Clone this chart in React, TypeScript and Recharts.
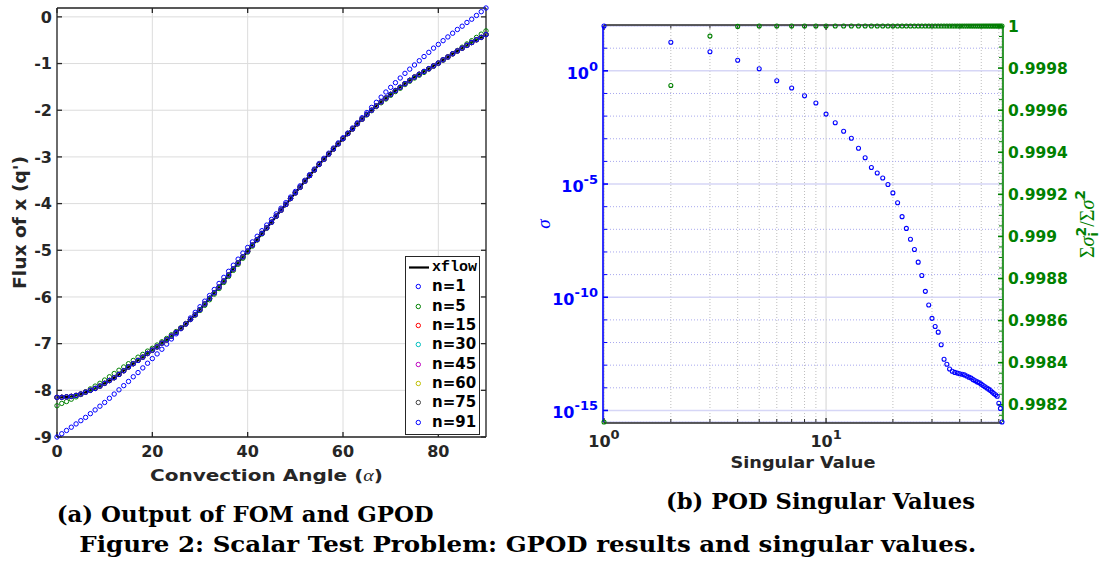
import React from "react";
import { ComposedChart, Line, XAxis, YAxis, CartesianGrid, Legend } from "recharts";

// ---------- (a) Output of FOM and GPOD ----------
const ANGLES = [
  0, 1, 2, 3, 4, 5, 6, 7, 8, 9, 10, 11, 12, 13, 14, 15, 16, 17, 18, 19,
  20, 21, 22, 23, 24, 25, 26, 27, 28, 29, 30, 31, 32, 33, 34, 35, 36, 37, 38, 39,
  40, 41, 42, 43, 44, 45, 46, 47, 48, 49, 50, 51, 52, 53, 54, 55, 56, 57, 58, 59,
  60, 61, 62, 63, 64, 65, 66, 67, 68, 69, 70, 71, 72, 73, 74, 75, 76, 77, 78, 79,
  80, 81, 82, 83, 84, 85, 86, 87, 88, 89, 90,
];

const XFLOW = [
  -8.15, -8.15, -8.14, -8.13, -8.11, -8.08, -8.04, -8.0, -7.96, -7.91,
  -7.85, -7.79, -7.73, -7.66, -7.58, -7.5, -7.43, -7.36, -7.29, -7.21,
  -7.14, -7.07, -6.99, -6.92, -6.84, -6.76, -6.67, -6.58, -6.48, -6.38,
  -6.27, -6.15, -6.03, -5.91, -5.79, -5.66, -5.53, -5.4, -5.27, -5.14,
  -5.02, -4.89, -4.77, -4.64, -4.52, -4.4, -4.27, -4.14, -4.02, -3.89,
  -3.77, -3.65, -3.52, -3.4, -3.28, -3.16, -3.05, -2.94, -2.83, -2.72,
  -2.61, -2.5, -2.4, -2.29, -2.19, -2.09, -2.0, -1.91, -1.82, -1.74,
  -1.66, -1.58, -1.51, -1.43, -1.36, -1.29, -1.23, -1.17, -1.11, -1.05,
  -0.99, -0.92, -0.86, -0.79, -0.73, -0.67, -0.61, -0.55, -0.49, -0.44,
  -0.38,
];

const GPOD_N1 = [
  -9.0, -8.93, -8.86, -8.79, -8.72, -8.65, -8.58, -8.5, -8.42, -8.34,
  -8.26, -8.17, -8.08, -7.99, -7.9, -7.81, -7.71, -7.62, -7.52, -7.42,
  -7.32, -7.22, -7.12, -7.01, -6.9, -6.79, -6.68, -6.57, -6.45, -6.33,
  -6.21, -6.09, -5.97, -5.84, -5.71, -5.58, -5.45, -5.32, -5.19, -5.06,
  -4.94, -4.82, -4.7, -4.58, -4.46, -4.34, -4.22, -4.1, -3.98, -3.86,
  -3.74, -3.62, -3.5, -3.38, -3.26, -3.14, -3.03, -2.92, -2.81, -2.7,
  -2.59, -2.49, -2.38, -2.27, -2.16, -2.05, -1.94, -1.83, -1.72, -1.61,
  -1.51, -1.41, -1.31, -1.21, -1.12, -1.03, -0.94, -0.85, -0.76, -0.67,
  -0.59, -0.51, -0.43, -0.35, -0.27, -0.2, -0.12, -0.05, 0.03, 0.11,
  0.19,
];

const GPOD_N5 = [
  -8.33, -8.28, -8.24, -8.19, -8.14, -8.09, -8.03, -7.97, -7.91, -7.85,
  -7.78, -7.71, -7.64, -7.57, -7.5, -7.43, -7.36, -7.29, -7.23, -7.16,
  -7.1, -7.03, -6.96, -6.89, -6.81, -6.74, -6.66, -6.57, -6.48, -6.39,
  -6.29, -6.18, -6.06, -5.94, -5.82, -5.69, -5.56, -5.43, -5.3, -5.17,
  -5.04, -4.91, -4.78, -4.65, -4.53, -4.4, -4.27, -4.14, -4.02, -3.89,
  -3.77, -3.65, -3.52, -3.4, -3.28, -3.16, -3.05, -2.94, -2.83, -2.72,
  -2.61, -2.5, -2.4, -2.29, -2.19, -2.1, -2.01, -1.92, -1.84, -1.76,
  -1.68, -1.6, -1.53, -1.45, -1.38, -1.31, -1.25, -1.19, -1.12, -1.06,
  -1.0, -0.93, -0.86, -0.79, -0.72, -0.65, -0.58, -0.51, -0.44, -0.37,
  -0.3,
];

// n=15 and up land on the xflow curve
const GPOD_CONVERGED = XFLOW;

const FLUX_SERIES = [
  { key: "n1", name: "n=1", color: "#0000ff" },
  { key: "n5", name: "n=5", color: "#008000" },
  { key: "n15", name: "n=15", color: "#ff0000" },
  { key: "n30", name: "n=30", color: "#00bfbf" },
  { key: "n45", name: "n=45", color: "#bf00bf" },
  { key: "n60", name: "n=60", color: "#bfbf00" },
  { key: "n75", name: "n=75", color: "#404040" },
  { key: "n91", name: "n=91", color: "#0000ff" },
];

const FLUX_X_TICKS = [0, 20, 40, 60, 80];
const FLUX_Y_TICKS = [-9, -8, -7, -6, -5, -4, -3, -2, -1, 0];

const fluxRows = ANGLES.map((a, i) => ({
  a,
  xflow: XFLOW[i],
  n1: GPOD_N1[i],
  n5: GPOD_N5[i],
  n15: GPOD_CONVERGED[i],
  n30: GPOD_CONVERGED[i],
  n45: GPOD_CONVERGED[i],
  n60: GPOD_CONVERGED[i],
  n75: GPOD_CONVERGED[i],
  n91: GPOD_CONVERGED[i],
}));

const FLUX_X_DOMAIN = [ANGLES[0], ANGLES[ANGLES.length - 1]];
const FLUX_Y_DOMAIN = [
  Math.min(...XFLOW, ...GPOD_N1, ...GPOD_N5),
  Math.max(...XFLOW, ...GPOD_N1, ...GPOD_N5),
];

// ---------- (b) POD Singular Values ----------
const SV_INDEX = [
  1, 2, 3, 4, 5, 6, 7, 8, 9, 10, 11, 12, 13, 14, 15, 16, 17, 18, 19, 20,
  21, 22, 23, 24, 25, 26, 27, 28, 29, 30, 31, 32, 33, 34, 35, 36, 37, 38, 39, 40,
  41, 42, 43, 44, 45, 46, 47, 48, 49, 50, 51, 52, 53, 54, 55, 56, 57, 58, 59, 60,
  61, 62,
];

const SIGMA = [
  95.5, 18.2, 6.92, 2.95, 1.23, 0.363, 0.174, 0.0794, 0.038, 0.0123,
  5.13e-3, 2.14e-3, 1.05e-3, 3.8e-4, 1.45e-4, 5.37e-5, 3.09e-5, 1.86e-5, 9.55e-6, 4.07e-6,
  1.48e-6, 3.63e-7, 1.1e-7, 3.63e-8, 1.29e-8, 3.55e-9, 9.12e-10, 1.82e-10, 4.57e-11, 1.17e-11,
  5.13e-12, 2.88e-12, 7.94e-13, 1.82e-13, 1.1e-13, 6.76e-14, 5.37e-14, 4.79e-14, 4.47e-14, 4.17e-14,
  3.98e-14, 3.72e-14, 3.31e-14, 2.95e-14, 2.69e-14, 2.29e-14, 2.04e-14, 1.82e-14, 1.66e-14, 1.45e-14,
  1.26e-14, 1.12e-14, 9.77e-15, 8.71e-15, 7.59e-15, 6.46e-15, 5.62e-15, 4.9e-15, 4.27e-15, 2.09e-15,
  1.23e-15, 3.09e-16,
];

const ENERGY = [
  0.998118, 0.999717, 0.999952, 0.999998, 1, 1, 1, 1, 1, 1,
  1, 1, 1, 1, 1, 1, 1, 1, 1, 1,
  1, 1, 1, 1, 1, 1, 1, 1, 1, 1,
  1, 1, 1, 1, 1, 1, 1, 1, 1, 1,
  1, 1, 1, 1, 1, 1, 1, 1, 1, 1,
  1, 1, 1, 1, 1, 1, 1, 1, 1, 1,
  1, 1,
];

const SV_X_MAJOR = [1, 10];
const SV_X_MINOR = [2, 3, 4, 5, 6, 7, 8, 9, 20, 30, 40, 50, 60];
const SIGMA_MAJOR = [1e-15, 1e-10, 1e-5, 1];
const SIGMA_MINOR = [10, 1e-1, 1e-2, 1e-3, 1e-4, 1e-6, 1e-7, 1e-8, 1e-9, 1e-11, 1e-12, 1e-13, 1e-14];
const ENERGY_TICKS = [0.9982, 0.9984, 0.9986, 0.9988, 0.999, 0.9992, 0.9994, 0.9996, 0.9998, 1];
const ENERGY_MINOR = [
  0.99815, 0.99825, 0.9983, 0.99835, 0.99845, 0.9985, 0.99855, 0.99865, 0.9987, 0.99875,
  0.99885, 0.9989, 0.99895, 0.99905, 0.9991, 0.99915, 0.99925, 0.9993, 0.99935, 0.99945,
  0.9995, 0.99955, 0.99965, 0.9997, 0.99975, 0.99985, 0.9999, 0.99995,
];

const svRows = SV_INDEX.map((i, k) => ({ i, sigma: SIGMA[k], energy: ENERGY[k] }));

const SV_X_DOMAIN = [SV_INDEX[0], SV_INDEX[SV_INDEX.length - 1]];
const SIGMA_DOMAIN = [Math.min(...SIGMA), Math.max(...SIGMA)];
const ENERGY_DOMAIN = [Math.min(...ENERGY), Math.max(...ENERGY)];

const INK = "#262626";
const SANS = "DejaVu Sans";
const tickFont = { fill: INK, fontSize: 16, fontWeight: "bold", fontFamily: SANS };

// tick marks without a label
function NoTick() {
  return null;
}

function FluxLegend() {
  return (
    <div
      style={{
        width: 75,
        height: 179,
        boxSizing: "border-box",
        border: `1.3px solid ${INK}`,
        background: "#fff",
        paddingTop: 1,
        fontFamily: SANS,
        fontWeight: "bold",
        fontSize: 15,
        color: "#000",
      }}
    >
      <div style={{ display: "flex", alignItems: "center", height: 19.3 }}>
        <svg width={26} height={19} style={{ flex: "none" }}>
          <line x1={3} x2={23} y1={9.5} y2={9.5} stroke="#000" strokeWidth={2.2} />
        </svg>
        <span style={{ fontFamily: "Liberation Mono", fontSize: 15, lineHeight: "19px" }}>xflow</span>
      </div>
      {FLUX_SERIES.map((s) => (
        <div key={s.key} style={{ display: "flex", alignItems: "center", height: 19.3 }}>
          <svg width={26} height={19} style={{ flex: "none" }}>
            <circle cx={12.3} cy={9.5} r={2.2} fill="none" stroke={s.color} strokeWidth={1} />
          </svg>
          <span style={{ lineHeight: "19px" }}>{s.name}</span>
        </div>
      ))}
    </div>
  );
}

function SigmaTick(props: any) {
  const { x, y, payload } = props;
  const exp = Math.round(Math.log10(payload.value));
  return (
    <text x={x} y={y + 8} textAnchor="end" fill="#0000ff" fontFamily={SANS} fontWeight="bold" fontSize={16}>
      <tspan>10</tspan>
      <tspan dy={-8} fontSize={13}>{exp}</tspan>
    </text>
  );
}

function IndexTick(props: any) {
  const { x, y, payload } = props;
  const exp = Math.round(Math.log10(payload.value));
  return (
    <text x={x} y={y} textAnchor="middle" fill={INK} fontFamily={SANS} fontWeight="bold" fontSize={16}>
      <tspan>10</tspan>
      <tspan dy={-8} fontSize={13}>{exp}</tspan>
    </text>
  );
}

function FluxChart() {
  return (
    <ComposedChart width={500} height={490} data={fluxRows} margin={{ top: 7, right: 13, bottom: 0, left: 0 }}>
      <CartesianGrid xAxisId="a" yAxisId="f" stroke="#dcdcdc" />
      <XAxis
        xAxisId="a"
        dataKey="a"
        type="number"
        domain={FLUX_X_DOMAIN}
        ticks={FLUX_X_TICKS}
        interval={0}
        height={53}
        tickSize={-5}
        tickMargin={14}
        stroke={INK}
        strokeWidth={1.3}
        tick={tickFont}
        label={{
          content: ({ viewBox }: any) =>
            viewBox ? (
              <text
                x={viewBox.x + viewBox.width / 2 - 5}
                y={480.7}
                textAnchor="middle"
                fill={INK}
                fontFamily={SANS}
                fontWeight="bold"
                fontSize={16.5}
                textLength={233}
                lengthAdjust="spacingAndGlyphs"
              >
                Convection Angle (<tspan fontFamily="Liberation Serif" fontStyle="italic" fontWeight="normal">α</tspan>)
              </text>
            ) : null,
        }}
      />
      {/* box: top edge */}
      <XAxis
        xAxisId="top"
        orientation="top"
        dataKey="a"
        type="number"
        domain={FLUX_X_DOMAIN}
        ticks={FLUX_X_TICKS}
        interval={0}
        height={1}
        tickSize={-5}
        tick={<NoTick />}
        stroke={INK}
        strokeWidth={1.3}
      />
      <YAxis
        yAxisId="f"
        type="number"
        domain={FLUX_Y_DOMAIN}
        ticks={FLUX_Y_TICKS}
        interval={0}
        width={57}
        tickSize={-5}
        tickMargin={10}
        stroke={INK}
        strokeWidth={1.3}
        tick={tickFont}
        label={{
          content: ({ viewBox }: any) =>
            viewBox ? (
              <text
                transform={`translate(${viewBox.x + 20},${viewBox.y + viewBox.height / 2}) rotate(-90)`}
                textAnchor="middle"
                dominantBaseline="central"
                fill={INK}
                fontFamily={SANS}
                fontWeight="bold"
                fontSize={17.5}
                textLength={133}
                lengthAdjust="spacingAndGlyphs"
              >
                Flux of x (q')
              </text>
            ) : null,
        }}
      />
      {/* box: right edge */}
      <YAxis
        yAxisId="fr"
        orientation="right"
        type="number"
        domain={FLUX_Y_DOMAIN}
        ticks={FLUX_Y_TICKS}
        interval={0}
        width={1}
        tickSize={-5}
        tick={<NoTick />}
        stroke={INK}
        strokeWidth={1.3}
      />
      <Line
        xAxisId="top"
        yAxisId="fr"
        dataKey="xflow"
        stroke="none"
        dot={false}
        activeDot={false}
        legendType="none"
        isAnimationActive={false}
      />
      <Line
        xAxisId="a"
        yAxisId="f"
        dataKey="xflow"
        name="xflow"
        stroke="#000"
        strokeWidth={2.2}
        dot={false}
        activeDot={false}
        isAnimationActive={false}
      />
      {FLUX_SERIES.map((s) => (
        <Line
          key={s.key}
          xAxisId="a"
          yAxisId="f"
          dataKey={s.key}
          name={s.name}
          stroke="none"
          dot={{ r: 2.2, stroke: s.color, strokeWidth: 1, fill: "none" }}
          activeDot={false}
          isAnimationActive={false}
        />
      ))}
      <Legend
        layout="vertical"
        align="center"
        verticalAlign="middle"
        content={() => <FluxLegend />}
        wrapperStyle={{ left: 405, top: 256, width: 75, height: 179 }}
      />
    </ComposedChart>
  );
}

function SingularChart() {
  return (
    <ComposedChart width={574} height={480} data={svRows} margin={{ top: 24, right: 0, bottom: 0, left: 0 }}>
      <CartesianGrid xAxisId="a_xm" yAxisId="a_sm" horizontal={false} stroke="#bdbdbd" strokeDasharray="1 2" />
      <CartesianGrid xAxisId="a_xm" yAxisId="a_sm" vertical={false} stroke="#a8a8ee" strokeDasharray="1 2" />
      <CartesianGrid xAxisId="x" yAxisId="s" horizontal={false} stroke="#d2d2d2" />
      <CartesianGrid xAxisId="x" yAxisId="s" vertical={false} stroke="#d6d6f6" strokeWidth={1.5} />

      <XAxis
        xAxisId="x"
        dataKey="i"
        type="number"
        scale="log"
        domain={SV_X_DOMAIN}
        ticks={SV_X_MAJOR}
        interval={0}
        height={57}
        tickSize={-5}
        tickMargin={28.7}
        stroke={INK}
        strokeWidth={1.3}
        tick={<IndexTick />}
        label={{
          content: ({ viewBox }: any) =>
            viewBox ? (
              <text
                x={viewBox.x + viewBox.width / 2}
                y={468.3}
                textAnchor="middle"
                fill={INK}
                fontFamily={SANS}
                fontWeight="bold"
                fontSize={16.5}
                textLength={145}
                lengthAdjust="spacingAndGlyphs"
              >
                Singular Value
              </text>
            ) : null,
        }}
      />
      <XAxis
        xAxisId="t"
        orientation="top"
        dataKey="i"
        type="number"
        scale="log"
        domain={SV_X_DOMAIN}
        ticks={SV_X_MAJOR}
        interval={0}
        height={1}
        tickSize={-5}
        tick={<NoTick />}
        stroke={INK}
        strokeWidth={1.3}
      />
      <YAxis
        yAxisId="s"
        type="number"
        scale="log"
        domain={SIGMA_DOMAIN}
        ticks={SIGMA_MAJOR}
        interval={0}
        width={73}
        tickSize={-5}
        tickMargin={10}
        stroke="#0000ff"
        strokeWidth={1.6}
        tick={<SigmaTick />}
        label={{
          content: ({ viewBox }: any) =>
            viewBox ? (
              <text
                transform={`translate(13,${viewBox.y + viewBox.height / 2}) rotate(-90)`}
                textAnchor="middle"
                dominantBaseline="central"
                fill="#0000ff"
                fontFamily="Liberation Serif"
                fontStyle="italic"
                fontSize={19}
              >
                σ
              </text>
            ) : null,
        }}
      />
      <YAxis
        yAxisId="e"
        orientation="right"
        type="number"
        domain={ENERGY_DOMAIN}
        ticks={ENERGY_TICKS}
        interval={0}
        width={101}
        tickSize={-5}
        tickMargin={10}
        stroke="#008000"
        strokeWidth={1.6}
        tick={{ fill: "#008000", fontSize: 15.5, fontWeight: "bold", fontFamily: SANS }}
        label={{
          content: ({ viewBox }: any) =>
            viewBox ? (
              <text
                transform={`translate(564,${viewBox.y + viewBox.height / 2}) rotate(-90)`}
                textAnchor="middle"
                fill="#008000"
                fontFamily="Liberation Serif"
                fontSize={20}
              >
                Σ<tspan fontStyle="italic">σ</tspan>
                <tspan fontFamily={SANS} fontWeight="bold" fontSize={13} dy={4}>i</tspan>
                <tspan fontFamily={SANS} fontWeight="bold" fontSize={14} dx={-4.5} dy={-12}>2</tspan>
                <tspan dy={8}>/Σ</tspan>
                <tspan fontStyle="italic">σ</tspan>
                <tspan fontFamily={SANS} fontWeight="bold" fontSize={14} dy={-9}>2</tspan>
              </text>
            ) : null,
        }}
      />

      {/* minor tick axes, declared after the labelled ones so they hug the plot */}
      <XAxis
        xAxisId="a_xm"
        dataKey="i"
        type="number"
        scale="log"
        domain={SV_X_DOMAIN}
        ticks={SV_X_MINOR}
        interval={0}
        height={1}
        tickSize={-3}
        tick={<NoTick />}
        axisLine={false}
        stroke={INK}
      />
      <XAxis
        xAxisId="a_tm"
        orientation="top"
        dataKey="i"
        type="number"
        scale="log"
        domain={SV_X_DOMAIN}
        ticks={SV_X_MINOR}
        interval={0}
        height={1}
        tickSize={-2.5}
        tick={<NoTick />}
        axisLine={false}
        stroke={INK}
      />
      <YAxis
        yAxisId="a_sm"
        type="number"
        scale="log"
        domain={SIGMA_DOMAIN}
        ticks={SIGMA_MINOR}
        interval={0}
        width={1}
        tickSize={-3}
        tick={<NoTick />}
        axisLine={false}
        stroke="#0000ff"
      />
      <YAxis
        yAxisId="a_em"
        orientation="right"
        type="number"
        domain={ENERGY_DOMAIN}
        ticks={ENERGY_MINOR}
        interval={0}
        width={1}
        tickSize={-3}
        tick={<NoTick />}
        axisLine={false}
        stroke="#008000"
      />

      {/* invisible carriers so the tick-only axes get a domain */}
      <Line xAxisId="a_xm" yAxisId="a_sm" dataKey="sigma" stroke="none" dot={false} activeDot={false} legendType="none" isAnimationActive={false} />
      <Line xAxisId="a_tm" yAxisId="a_em" dataKey="energy" stroke="none" dot={false} activeDot={false} legendType="none" isAnimationActive={false} />
      <Line xAxisId="t" yAxisId="a_em" dataKey="energy" stroke="none" dot={false} activeDot={false} legendType="none" isAnimationActive={false} />

      <Line
        xAxisId="x"
        yAxisId="e"
        dataKey="energy"
        stroke="none"
        dot={{ r: 2, stroke: "#008000", strokeWidth: 1.1, fill: "none", clipDot: false }}
        activeDot={false}
        isAnimationActive={false}
      />
      <Line
        xAxisId="x"
        yAxisId="s"
        dataKey="sigma"
        stroke="none"
        dot={{ r: 2, stroke: "#0000ff", strokeWidth: 1.1, fill: "none", clipDot: false }}
        activeDot={false}
        isAnimationActive={false}
      />
    </ComposedChart>
  );
}

export default function App() {
  const serif = { fontFamily: "DejaVu Serif", fontWeight: "bold" as const, fill: "#000" };
  return (
    <div style={{ position: "absolute", left: 0, top: 0, width: 1104, height: 567, background: "#fff", overflow: "hidden" }}>
      <div style={{ position: "absolute", left: 0, top: 0 }}>
        <FluxChart />
      </div>
      <div style={{ position: "absolute", left: 530, top: 0 }}>
        <SingularChart />
      </div>
      <svg width={1104} height={82} style={{ position: "absolute", left: 0, top: 485 }}>
        <text x={56.7} y={36.7} fontSize={21.5} textLength={377} lengthAdjust="spacingAndGlyphs" {...serif}>
          (a) Output of FOM and GPOD
        </text>
        <text x={666} y={24.3} fontSize={21.5} textLength={309} lengthAdjust="spacingAndGlyphs" {...serif}>
          (b) POD Singular Values
        </text>
        <text x={79.3} y={66.7} fontSize={21.5} textLength={897} lengthAdjust="spacingAndGlyphs" {...serif}>
          Figure 2: Scalar Test Problem: GPOD results and singular values.
        </text>
      </svg>
    </div>
  );
}
